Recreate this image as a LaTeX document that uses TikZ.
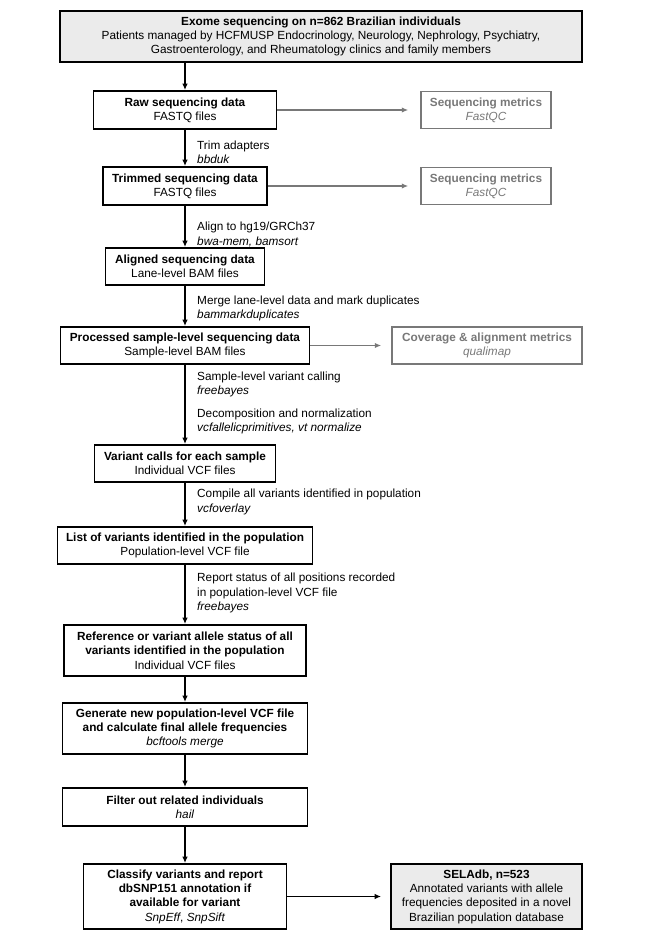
\documentclass[tikz,border=0pt]{standalone}
\usepackage{fontspec}
\setmainfont{Liberation Sans}
\usetikzlibrary{arrows.meta,positioning}
\definecolor{boxgray}{rgb}{0.92,0.92,0.92}
\definecolor{metricgray}{rgb}{0.47,0.47,0.47}

\begin{document}
\begin{tikzpicture}[x=1pt,y=-1pt,
  font=\fontsize{11.8}{14.3}\selectfont,
  stepbox/.style={draw=black,line width=1.8pt,align=center,inner sep=2pt},
  metricbox/.style={draw=metricgray,line width=1.5pt,text=metricgray,align=center,inner sep=2pt},
  flow/.style={line width=1.5pt,-{Latex[length=6.5pt,width=5.5pt]}},
  side/.style={metricgray,line width=1.5pt,-{Latex[length=6.5pt,width=5.5pt]},shorten >=12pt},
  note/.style={anchor=west,align=left,inner sep=0pt}]
\useasboundingbox (0,0) rectangle (650,944);

% main column
\node[stepbox,fill=boxgray,minimum width=522,minimum height=51] (exome) at (321,36.5)
  {\textbf{Exome sequencing on n=862 Brazilian individuals}\\
   Patients managed by HCFMUSP Endocrinology, Neurology, Nephrology, Psychiatry,\\
   Gastroenterology, and Rheumatology clinics and family members};
\node[stepbox,minimum width=183,minimum height=38] (raw) at (185,110)
  {\textbf{Raw sequencing data}\\FASTQ files};
\node[stepbox,minimum width=164,minimum height=38] (trimmed) at (185,186)
  {\textbf{Trimmed sequencing data}\\FASTQ files};
\node[stepbox,minimum width=159,minimum height=37] (aligned) at (185,266.5)
  {\textbf{Aligned sequencing data}\\Lane-level BAM files};
\node[stepbox,minimum width=249,minimum height=37] (processed) at (185,345.5)
  {\textbf{Processed sample-level sequencing data}\\Sample-level BAM files};
\node[stepbox,minimum width=181,minimum height=37] (vcfsample) at (185,463.5)
  {\textbf{Variant calls for each sample}\\Individual VCF files};
\node[stepbox,minimum width=255,minimum height=37] (vcfpop) at (185,545.5)
  {\textbf{List of variants identified in the population}\\Population-level VCF file};
\node[stepbox,minimum width=242,minimum height=51] (refstatus) at (185,650.5)
  {\textbf{Reference or variant allele status of all}\\
   \textbf{variants identified in the population}\\Individual VCF files};
\node[stepbox,minimum width=245,minimum height=51] (merged) at (185,728.5)
  {\textbf{Generate new population-level VCF file}\\
   \textbf{and calculate final allele frequencies}\\\textit{bcftools merge}};
\node[stepbox,minimum width=245,minimum height=38] (unrelated) at (185,807)
  {\textbf{Filter out related individuals}\\\textit{hail}};
\node[stepbox,minimum width=203,minimum height=65] (annotated) at (185,896.5)
  {\textbf{Classify variants and report}\\\textbf{dbSNP151 annotation if}\\
   \textbf{available for variant}\\\textit{SnpEff}, \textit{SnpSift}};
\node[stepbox,fill=boxgray,minimum width=191,minimum height=65] (selad) at (486.5,896.5)
  {\textbf{SELAdb, n=523}\\Annotated variants with allele\\
   frequencies deposited in a novel\\Brazilian population database};

% quality metrics
\node[metricbox,minimum width=130,minimum height=37] (qcraw) at (486,110)
  {\textbf{Sequencing metrics}\\\textit{FastQC}};
\node[metricbox,minimum width=130,minimum height=37] (qctrim) at (486,186)
  {\textbf{Sequencing metrics}\\\textit{FastQC}};
\node[metricbox,minimum width=190,minimum height=37] (qcbam) at (487,345.5)
  {\textbf{Coverage \& alignment metrics}\\\textit{qualimap}};

% step labels
\node[note] (trimlbl) at (197,152) {Trim adapters\\\textit{bbduk}};
\node[note] (alignlbl) at (197,234.5) {Align to hg19/GRCh37\\\textit{bwa-mem, bamsort}};
\node[note] (mergelbl) at (197,308.5) {Merge lane-level data and mark duplicates\\\textit{bammarkduplicates}};
\node[note] (calllbl) at (197,384.5) {Sample-level variant calling\\\textit{freebayes}};
\node[note] (normlbl) at (197,421.5) {Decomposition and normalization\\\textit{vcfallelicprimitives, vt normalize}};
\node[note] (overlaylbl) at (197,502) {Compile all variants identified in population\\\textit{vcfoverlay}};
\node[note] (statuslbl) at (197,593) {Report status of all positions recorded\\in population-level VCF file\\\textit{freebayes}};

% arrows
\draw[flow] (exome.south -| raw.north) -- (raw);
\draw[flow] (raw) -- (trimmed);
\draw[flow] (trimmed) -- (aligned);
\draw[flow] (aligned) -- (processed);
\draw[flow] (processed) -- (vcfsample);
\draw[flow] (vcfsample) -- (vcfpop);
\draw[flow] (vcfpop) -- (refstatus);
\draw[flow] (refstatus) -- (merged);
\draw[flow] (merged) -- (unrelated);
\draw[flow] (unrelated) -- (annotated);
\draw[flow,shorten >=9pt] (annotated) -- (selad);
\draw[side] (raw) -- (qcraw);
\draw[side] (trimmed) -- (qctrim);
\draw[side,shorten >=10pt] (processed) -- (qcbam);
\end{tikzpicture}
\end{document}
